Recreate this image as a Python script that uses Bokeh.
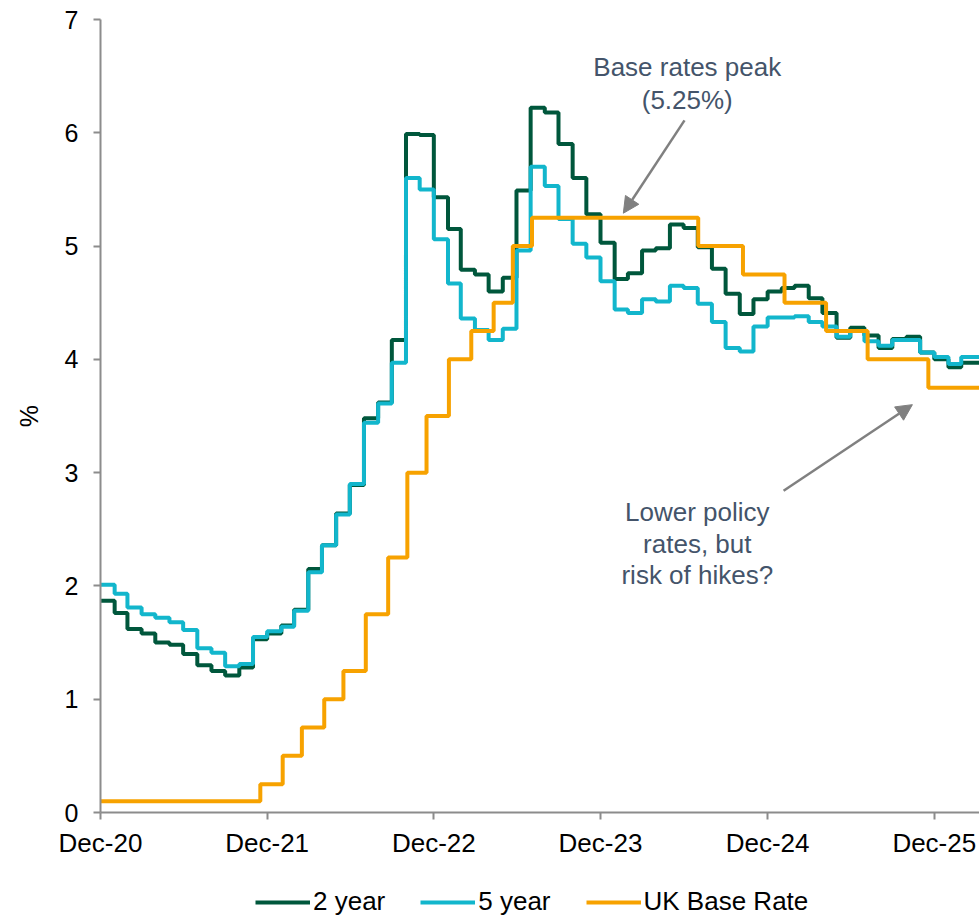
import pandas as pd
from datetime import datetime
from bokeh.plotting import figure
from bokeh.layouts import column
from bokeh.models import (Legend, LegendItem, Arrow, NormalHead, Label, FixedTicker,
                          DatetimeTickFormatter, Range1d, SingleIntervalTicker)
from bokeh.embed import file_html
from bokeh.resources import INLINE

# ---------------- data ----------------
months = pd.period_range("2020-12", "2026-04", freq="M").to_timestamp(how="end").normalize()

two_year = [1.87, 1.76, 1.62, 1.58, 1.50, 1.48, 1.40, 1.30, 1.25, 1.21, 1.28, 1.53,
            1.58, 1.65, 1.79, 2.15, 2.36, 2.64, 2.89, 3.48, 3.62, 4.17, 5.99, 5.98,
            5.43, 5.15, 4.79, 4.75, 4.60, 4.72, 5.49, 6.22, 6.18, 5.90, 5.60, 5.28,
            5.03, 4.71, 4.76, 4.96, 4.98, 5.19, 5.16, 4.99, 4.80, 4.58, 4.40, 4.53,
            4.60, 4.63, 4.65, 4.54, 4.41, 4.19, 4.28, 4.21, 4.10, 4.18, 4.20, 4.06,
            4.00, 3.93, 3.97, 3.97, 3.97]
five_year = [2.01, 1.93, 1.81, 1.75, 1.72, 1.68, 1.61, 1.45, 1.41, 1.29, 1.31, 1.55,
             1.60, 1.64, 1.78, 2.12, 2.36, 2.63, 2.90, 3.44, 3.61, 3.97, 5.60, 5.50,
             5.06, 4.67, 4.36, 4.26, 4.17, 4.27, 4.96, 5.70, 5.53, 5.24, 5.02, 4.90,
             4.69, 4.44, 4.41, 4.53, 4.51, 4.65, 4.63, 4.49, 4.33, 4.10, 4.07, 4.29,
             4.37, 4.37, 4.38, 4.33, 4.29, 4.20, 4.25, 4.16, 4.12, 4.17, 4.17, 4.06,
             4.02, 3.96, 4.02, 4.02, 4.02]

base_dates = ["2020-12-31", "2021-12-16", "2022-02-03", "2022-03-17", "2022-05-05",
              "2022-06-16", "2022-08-04", "2022-09-22", "2022-11-03", "2022-12-15",
              "2023-02-02", "2023-03-23", "2023-05-11", "2023-06-22", "2023-08-03",
              "2024-08-01", "2024-11-07", "2025-02-06", "2025-05-08", "2025-08-07",
              "2025-12-18", "2026-04-30"]
base_rate = [0.10, 0.25, 0.50, 0.75, 1.00, 1.25, 1.75, 2.25, 3.00, 3.50, 4.00, 4.25,
             4.50, 5.00, 5.25, 5.00, 4.75, 4.50, 4.25, 4.00, 3.75, 3.75]

series_names = ["2 year", "5 year", "UK Base Rate"]
tick_dates = ["2020-12-31", "2021-12-31", "2022-12-31", "2023-12-31", "2024-12-31", "2025-12-31"]

# ---------------- styling ----------------
FONT = "Liberation Sans"
C2 = "#00573c"
C5 = "#12b6cc"
CB = "#f7a200"
COLORS = [C2, C5, CB]
AXIS = "#8c8c8c"
NOTE = "#44546a"
ARROW = "#808080"
LW = 4


def ms(d):
    return pd.Timestamp(d).value / 1e6


xr = Range1d(datetime(2020, 12, 31), datetime(2026, 4, 9))
p = figure(width=979, height=860, x_axis_type="datetime",
           x_range=xr, y_range=Range1d(0, 7),
           output_backend="svg", toolbar_location=None,
           min_border_left=100, min_border_right=0, min_border_top=19, min_border_bottom=48)
p.outline_line_color = None
p.grid.visible = False

series = [(months, two_year), (months, five_year), (pd.to_datetime(base_dates), base_rate)]
for (xs, ys), col in zip(series, COLORS):
    p.step(xs, ys, mode="after", line_color=col, line_width=LW)

# axes
xa = p.xaxis[0]
xa.ticker = FixedTicker(ticks=[ms(d) for d in tick_dates])
fmt = "%b-%y"
xa.formatter = DatetimeTickFormatter(microseconds=fmt, milliseconds=fmt, seconds=fmt,
                                     minsec=fmt, minutes=fmt, hourmin=fmt, hours=fmt,
                                     days=fmt, months=fmt, years=fmt)

ya = p.yaxis[0]
ya.ticker = SingleIntervalTicker(interval=1)
ya.axis_label = "%"
ya.axis_label_text_font = FONT
ya.axis_label_text_font_size = "25px"
ya.axis_label_text_font_style = "normal"
ya.axis_label_text_color = "black"
ya.axis_label_standoff = 19
for ax in (xa, ya):
    ax.axis_line_color = AXIS
    ax.axis_line_width = 2
    ax.major_tick_line_color = AXIS
    ax.major_tick_line_width = 2
    ax.major_tick_out = 7
    ax.major_tick_in = 0
    ax.minor_tick_line_color = None
    ax.major_label_text_font = FONT
    ax.major_label_text_font_size = "25px"
    ax.major_label_text_color = "black"
xa.major_label_text_font_size = "26px"
xa.major_label_standoff = 8
ya.major_label_standoff = 15

# annotations
p.add_layout(Arrow(end=NormalHead(size=16, fill_color=ARROW, line_color=ARROW),
                   x_start=ms("2024-07-02"), y_start=6.11,
                   x_end=ms("2024-02-19"), y_end=5.29,
                   line_color=ARROW, line_width=2.5))
p.add_layout(Arrow(end=NormalHead(size=16, fill_color=ARROW, line_color=ARROW),
                   x_start=ms("2025-02-04"), y_start=2.84,
                   x_end=ms("2025-11-13"), y_end=3.60,
                   line_color=ARROW, line_width=2.5))

notes = [("Base rates peak", "2024-07-08", 6.58),
         ("(5.25%)", "2024-07-08", 6.29),
         ("Lower policy", "2024-07-30", 2.65),
         ("rates, but", "2024-07-30", 2.37),
         ("risk of hikes?", "2024-07-30", 2.10)]
for txt, d, yv in notes:
    p.add_layout(Label(x=ms(d), y=yv, text=txt, text_font=FONT, text_font_size="26px",
                       text_color=NOTE, text_align="center", text_baseline="middle"))

# ---------------- legend strip below the chart ----------------
# same series drawn again, but outside this strip's visible y-range, so only the legend shows
lg = figure(width=979, height=58, x_axis_type="datetime", x_range=xr, y_range=Range1d(-20, -10),
            output_backend="svg", toolbar_location=None,
            x_axis_location=None, y_axis_location=None,
            min_border_left=100, min_border_right=0, min_border_top=0, min_border_bottom=0)
lg.outline_line_color = None
lg.grid.visible = False
items = []
for name, (xs, ys), col in zip(series_names, series, COLORS):
    r = lg.step(xs, ys, mode="after", line_color=col, line_width=LW)
    items.append(LegendItem(label=name, renderers=[r]))
legend = Legend(items=items, orientation="horizontal", location=(155, 1),
                glyph_width=55, glyph_height=20, label_standoff=3, spacing=35,
                padding=0, margin=0, border_line_color=None, background_fill_alpha=0,
                label_text_font=FONT, label_text_font_size="26px", label_text_color="black")
lg.add_layout(legend, "center")

layout = column(p, lg, spacing=0)
open("out.html", "w").write(file_html(layout, INLINE))
